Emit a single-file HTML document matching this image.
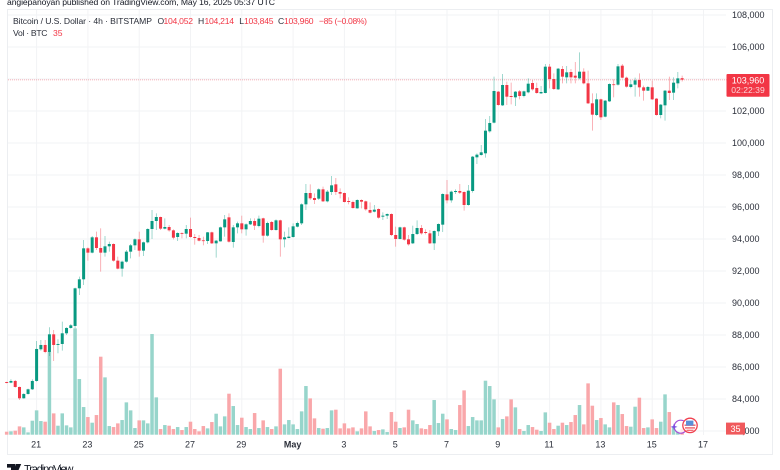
<!DOCTYPE html>
<html lang="en">
<head>
<meta charset="utf-8">
<title>Bitcoin / U.S. Dollar 4h chart</title>
<style>
html,body{margin:0;padding:0;background:#fff;width:780px;height:470px;overflow:hidden}
svg{display:block;filter:blur(.35px);font-family:"Liberation Sans",sans-serif}
text{fill:#131722}
.ax{font-size:9px;fill:#2a2e39}
.lg{font-size:8.6px;fill:#2a2e39}
.rd{font-size:8.6px;fill:#f23645}
</style>
</head>
<body>
<svg id="chart" xmlns="http://www.w3.org/2000/svg" width="780" height="470" viewBox="0 0 780 470">
  <rect x="7.5" y="9.5" width="765" height="445" fill="#fff" stroke="#eceef1" stroke-width="1"/>
  <text x="7" y="5" font-size="8.6" textLength="268" lengthAdjust="spacing">angiepanoyan published on TradingView.com, May 16, 2025 05:37 UTC</text>
  <g id="grid"></g>
  <line x1="8" x2="727" y1="79.9" y2="79.9" stroke="#f23645" stroke-opacity=".5" stroke-width=".8" stroke-dasharray="1 1"/>
  <g id="volume"></g>
  <g id="candles"></g>

  <g>
    <text class="lg" x="13" y="24" textLength="139" lengthAdjust="spacing">Bitcoin / U.S. Dollar · 4h · BITSTAMP</text>
    <text class="lg" x="157.5" y="24">O</text>
    <text class="rd" x="163.5" y="24" textLength="29.5" lengthAdjust="spacing">104,052</text>
    <text class="lg" x="198" y="24">H</text>
    <text class="rd" x="204.5" y="24" textLength="29.5" lengthAdjust="spacing">104,214</text>
    <text class="lg" x="239.3" y="24">L</text>
    <text class="rd" x="244" y="24" textLength="29.5" lengthAdjust="spacing">103,845</text>
    <text class="lg" x="278" y="24">C</text>
    <text class="rd" x="284" y="24" textLength="29.5" lengthAdjust="spacing">103,960</text>
    <text class="rd" x="319" y="24" textLength="48" lengthAdjust="spacing">−85 (−0.08%)</text>
    <text class="lg" x="13" y="36" textLength="34.5" lengthAdjust="spacing">Vol · BTC</text>
    <text class="rd" x="53" y="36">35</text>
  </g>

  <g id="priceAxis"></g>
  <g id="timeAxis"></g>

  <g>
    <rect x="726.5" y="74" width="43" height="22.8" rx="1" fill="#f23645"/>
    <text x="748" y="83.3" text-anchor="middle" font-size="9" style="fill:#fff">103,960</text>
    <text x="748" y="93" text-anchor="middle" font-size="8.6" style="fill:#fbd5d8">02:22:39</text>
  </g>
  <g>
    <rect x="726" y="422.6" width="19" height="12" fill="#f0595c"/>
    <text x="735.5" y="431.8" text-anchor="middle" font-size="9" style="fill:#fff">35</text>
  </g>

  <g>
    <circle cx="680.7" cy="426.7" r="6.5" fill="#fff" fill-opacity=".75" stroke="#a64fd8" stroke-width="1.2"/>
    <path d="M674 423.4l.9 2.6 2.6.9-2.6.9-.9 2.6-.9-2.6-2.6-.9 2.6-.9z" fill="#7a4fe0"/>
    <circle cx="690" cy="425.4" r="7.2" fill="#fff" stroke="#f0404f" stroke-width="1.3"/>
    <g>
      <rect x="684.5" y="424.5" width="11" height="1.4" fill="#f0606a"/>
      <rect x="685" y="427.2" width="10" height="1.4" fill="#f0606a"/>
      <rect x="686.5" y="429.7" width="7" height="1.2" fill="#f0606a"/>
      <rect x="686" y="420.6" width="7.4" height="5" fill="#5a8fd8"/>
    </g>
  </g>

  <g>
    <path d="M7 464h8v8h-4v-4.4H7zM15.6 464h5.6l-3.5 8h-4z" fill="#131722"/>
    <text x="24" y="472.5" font-size="11" textLength="49.5" lengthAdjust="spacing">TradingView</text>
  </g>
</svg>
<script>
var opens = [85060,85023,85127,84752,84044,84315,84606,
85127,87106,87377,86939,88043,87377,87439,88106,88439,88565,
90918,91480,93417,93147,94105,93438,93147,93542,93688,92647,
92147,92584,93209,93605,93980,93272,93792,94626,95125,95375,
94646,94750,94542,94125,94375,94333,94625,94125,94063,93917,
93875,94417,93729,93854,94729,95354,93813,94729,94979,94604,
94917,95125,94812,95292,94208,95062,94563,95167,93979,94063,
94125,94771,94979,96167,96875,96562,96521,97104,96354,96937,
97416,96937,96875,96375,96312,95916,96437,96354,95812,95708,
95875,95396,95458,95562,94250,94000,94729,93979,93729,94312,
94687,94438,94354,93729,94479,94896,96791,96416,96937,97000,
96937,96125,97000,99105,99251,99355,100730,101271,103208,102354,
103625,102938,102854,103229,102938,103167,103750,103437,103104,103125,
104771,104000,103354,104625,104104,104437,104208,104041,104458,103729,
102479,101750,102729,101646,102604,103667,103646,104833,104083,103500,
103646,103937,103479,103271,103479,102771,101750,102354,103271,103146,103729,104052];
var highs = [85080,85231,85190,84773,84356,84648,85231,
87627,87689,87689,88481,88314,87731,88835,88481,88689,90960,
91647,93938,93480,94188,94459,94667,94188,93834,93730,92897,
92647,93313,93688,94042,94459,93834,94667,95812,95604,95396,
95292,94875,94604,94417,94417,94875,95333,94312,94250,94146,
94438,94458,93937,94771,95500,95604,94875,95083,95458,94979,
95292,95292,95458,95333,95083,95125,95229,95208,94458,94729,
94979,95083,96229,97437,97416,96854,97166,97271,97062,97937,
97812,97166,96896,96604,96396,96479,96479,96396,96291,96125,
95916,95667,95604,95604,94771,94771,94771,94250,94833,95167,
94875,94604,94563,94542,94979,96854,97687,97021,97104,97437,
96979,97375,99188,99355,99875,101500,101688,104146,103250,104312,
103833,103771,103250,103312,103271,104041,103937,103771,103562,104937,
104937,104354,104687,104812,104812,104625,105062,105666,104667,104521,
103104,103104,102771,102688,103729,103979,104937,104937,104146,103937,
104083,104354,103583,103562,103896,102812,102438,103312,104146,104104,104437,104214];
var lows = [84980,84981,84710,83940,84023,84273,84565,
85085,87023,86856,86689,86377,86856,87023,88002,88397,88418,
90501,91126,92647,93105,93313,91959,92897,93209,92584,92105,
91647,92522,92792,93313,92897,92938,93730,94000,94563,94563,
94604,94458,93979,93875,94042,94042,94083,93646,93854,93604,
93688,93688,92834,93833,94146,93771,93459,94354,94354,94208,
94875,94563,94729,93771,94146,94521,94521,92896,93479,94042,
94083,94729,94875,95812,96437,96187,96437,96312,96291,96750,
96750,96541,96291,96167,95896,95896,95916,95771,95604,95667,
95271,95187,95250,94187,93521,93979,93896,93583,93688,94250,
94271,94292,93688,93313,94187,94438,96229,96271,96812,96812,
95771,96083,96897,98688,99209,99084,100646,101230,102333,102313,
102375,102417,102313,102729,102854,103104,103271,103083,103063,103104,
103417,103312,103312,103729,103729,103729,103729,103979,103667,102438,
100771,101688,101438,101604,102563,102854,103583,104041,103458,103417,
102896,102896,102646,103250,102688,101708,101542,101396,102688,102688,103417,103845];
var closes = [85000,85127,84752,84044,84315,84606,85127,
87127,87377,86939,88043,87377,87439,88106,88439,88606,90918,
91480,93417,93147,94105,93438,93147,93542,93688,92647,92147,
92584,93209,93605,93980,93272,93792,94626,95125,95375,94646,
94750,94542,94083,94375,94333,94625,94125,94063,93896,93875,
94417,93729,93896,94729,95229,93833,94729,94979,94604,94917,
95125,94833,95271,94208,95000,94563,95167,93979,94104,94146,
94792,95000,96167,96875,96541,96437,97104,96354,96958,97354,
96937,96833,96312,96312,95937,96437,96333,95854,95645,95833,
95333,95458,95562,94250,94000,94729,93958,93667,94312,94687,
94354,94375,93729,94500,94937,96812,96416,96958,97000,96896,
96125,97021,99146,99271,99417,100771,101250,103250,102375,103625,
102896,102875,103208,102938,103229,103708,103354,103125,103187,104771,
104000,103375,104646,104146,104416,104104,104083,104458,103729,102479,
101771,102729,101604,102646,103687,103625,104791,104083,103521,103667,
103916,103479,103271,103500,102729,101750,102396,103271,103125,103771,104041,103960];
var volumes = [18,20,24,50,44,14,84,
146,82,78,498,128,54,128,56,44,638,
334,166,106,72,118,468,344,52,46,68,
88,194,146,40,86,86,68,604,224,34,
58,54,34,46,28,46,78,34,20,52,
38,76,126,50,110,246,172,58,102,46,
34,130,40,86,46,34,50,396,62,88,
62,34,140,292,218,98,40,36,40,146,
150,38,68,38,44,20,38,140,50,22,
28,32,16,136,78,40,44,150,86,64,
38,34,58,208,70,126,92,34,28,178,
266,52,106,86,86,324,292,212,44,94,
110,212,164,34,22,58,46,30,22,134,
72,34,54,72,58,76,118,178,62,308,
174,88,100,62,44,194,178,124,52,48,
168,222,40,44,92,40,78,242,136,48,24,35];
var priceTicks = [108000,106000,104000,102000,100000,98000,96000,94000,92000,90000,88000,86000,84000,82000];
var hiddenPriceLabels = [104000];
var dateLabels = ['21','23','25','27','29','May','3','5','7','9','11','13','15','17'];
var candlesPerDateLabel = 12;
var firstLabelCandle = 7;

var NS = 'http://www.w3.org/2000/svg';
var UP = '#089981', DOWN = '#f23645';
function xScale(j){ return 36.6 + (j - firstLabelCandle) * 4.275; }
function yScale(p){ return 15 + (108000 - p) * 0.016; }
function volHeight(v){ return v / 6; }
function el(tag, parent){ var e = document.createElementNS(NS, tag); parent.appendChild(e); return e; }
function put(e, attrs){ for (var k in attrs) e.setAttribute(k, attrs[k]); return e; }

var grid = document.getElementById('grid');
priceTicks.forEach(function(p){
  var line = el('line', grid);
  
  
  put(line, {x1: 8, x2: 726, y1: yScale(p), y2: yScale(p), stroke: '#f2f3f5', 'stroke-width': 1});
});
dateLabels.forEach(function(d, k){
  var x = xScale(firstLabelCandle + k * candlesPerDateLabel);
  var line = el('line', grid);
  
  
  put(line, {x1: x, x2: x, y1: 10, y2: 435, stroke: '#f2f3f5', 'stroke-width': 1});
});

var volG = document.getElementById('volume');
volumes.forEach(function(v, j){
  var up = closes[j] >= opens[j];
  var h = volHeight(v);
  var bar = el('rect', volG);
  
  
  put(bar, {x: xScale(j) - 1.75, y: 434.7 - h, width: 3.5, height: h, fill: up ? '#97d5cb' : '#f9a7aa'});
});

var candleG = document.getElementById('candles');
opens.forEach(function(o, j){
  var c = closes[j];
  var up = c >= o;
  var color = up ? UP : DOWN;
  var x = xScale(j);
  var wick = el('line', candleG);
  
  
  put(wick, {x1: x, x2: x, y1: yScale(highs[j]), y2: yScale(lows[j]), stroke: color, 'stroke-width': 0.7, 'stroke-opacity': 0.55});
  var top = yScale(Math.max(o, c));
  var bottom = yScale(Math.min(o, c));
  var body = el('rect', candleG);
  
  
  put(body, {x: x - 1.5, y: top, width: 3, height: Math.max(bottom - top, 0.8), fill: color});
});

var priceAxis = document.getElementById('priceAxis');
priceTicks.forEach(function(p){
  if (hiddenPriceLabels.indexOf(p) >= 0) return;
  var t = el('text', priceAxis);
  
  
  put(t, {x: 732, y: yScale(p) + 3.2, 'class': 'ax'});
  t.textContent = p.toLocaleString('en-US');
});

var timeAxis = document.getElementById('timeAxis');
dateLabels.forEach(function(d, k){
  var t = el('text', timeAxis);
  
  
  put(t, {x: xScale(firstLabelCandle + k * candlesPerDateLabel) - 0.5, y: 447.6, 'class': 'ax', 'text-anchor': 'middle'});
  if (d === 'May') t.setAttribute('font-weight', 'bold');
  t.textContent = d;
});
</script>
</body>
</html>
